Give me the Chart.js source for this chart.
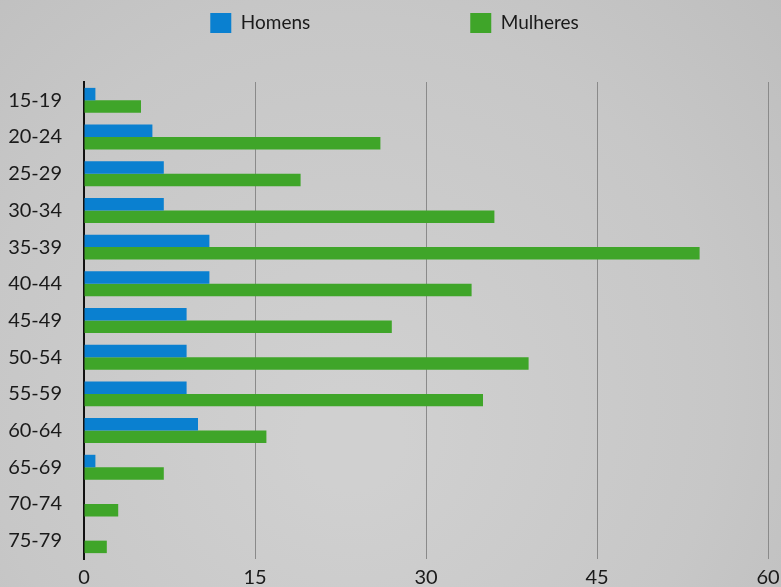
<!DOCTYPE html>
<html>
<head>
<meta charset="utf-8">
<script src="https://cdn.jsdelivr.net/npm/chart.js@4/dist/chart.umd.min.js"></script>
<style>
html,body{margin:0;padding:0;}
body{width:781px;height:587px;overflow:hidden;}
#wrap{position:relative;width:781px;height:587px;}
</style>
</head>
<body>
<div id="wrap"><canvas id="c" width="781" height="587"></canvas></div>
<script>
const categories = ["15-19","20-24","25-29","30-34","35-39","40-44","45-49","50-54","55-59","60-64","65-69","70-74","75-79"];
const homens = [1,6,7,7,11,11,9,9,9,10,1,0,0];
const mulheres = [5,26,19,36,54,34,27,39,35,16,7,3,2];
const xTicks = [0,15,30,45,60];

const bgPlugin = {
  id: 'bg',
  beforeDraw(chart) {
    const ctx = chart.ctx, w = chart.width, h = chart.height;
    ctx.save();
    const g = ctx.createRadialGradient(w*0.45, h*0.75, 50, w*0.45, h*0.6, w*0.75);
    g.addColorStop(0, '#d0d0d0');
    g.addColorStop(0.6, '#c7c7c7');
    g.addColorStop(1, '#bdbdbd');
    ctx.fillStyle = g;
    ctx.fillRect(0, 0, w, h);
    ctx.restore();
  }
};

// keep the wide gap between legend items without a tall legend box
const LEGEND_PAD = 160, LEGEND_H = 82, LEGEND_Y = 13;
const legendFix = {
  id: 'legendFix',
  afterInit(chart) {
    const lg = chart.legend;
    const fit = lg.fit;
    lg.fit = function () { fit.call(this); this.height = LEGEND_H; };
    const draw = lg._draw;
    lg._draw = function () {
      const t = this.top;
      this.top = LEGEND_Y - LEGEND_PAD;
      draw.call(this);
      this.top = t;
    };
  }
};

new Chart(document.getElementById('c'), {
  type: 'bar',
  data: {
    labels: categories,
    datasets: [
      { label: 'Homens', data: homens, backgroundColor: '#0a80d0', borderWidth: 0 },
      { label: 'Mulheres', data: mulheres, backgroundColor: '#3fa529', borderWidth: 0 }
    ]
  },
  options: {
    indexAxis: 'y',
    responsive: false,
    animation: false,
    devicePixelRatio: 1,
    layout: { padding: { left: 8, top: 0, right: 0, bottom: 0 } },
    datasets: { bar: { categoryPercentage: 0.68, barPercentage: 1 } },
    plugins: {
      legend: {
        position: 'top',
        labels: {
          font: { family: 'Lato', size: 19 },
          color: '#1a1a1a',
          boxWidth: 21,
          boxHeight: 20,
          padding: LEGEND_PAD
        },
        onClick: null
      },
      tooltip: { enabled: false }
    },
    scales: {
      x: {
        min: 0, max: 60,
        afterBuildTicks(axis) { axis.ticks = xTicks.map(v => ({ value: v })); },
        afterFit(axis) { axis.height = 28; axis.paddingLeft = 0; axis.paddingRight = 13; },
        grid: { color: '#8a8a8a', lineWidth: 1, drawTicks: false },
        border: { display: false },
        ticks: { font: { family: 'Lato', size: 20, lineHeight: 1 }, color: '#1a1a1a', padding: 9, maxRotation: 0 }
      },
      y: {
        afterFit(axis) { axis.width = 76; axis.paddingTop = 0; axis.paddingBottom = 0; },
        grid: { display: false, drawTicks: false },
        border: { display: true, color: '#111', width: 2 },
        ticks: { font: { family: 'Lato', size: 20 }, color: '#1a1a1a', padding: 22 }
      }
    }
  },
  plugins: [bgPlugin, legendFix]
});
</script>
</body>
</html>
